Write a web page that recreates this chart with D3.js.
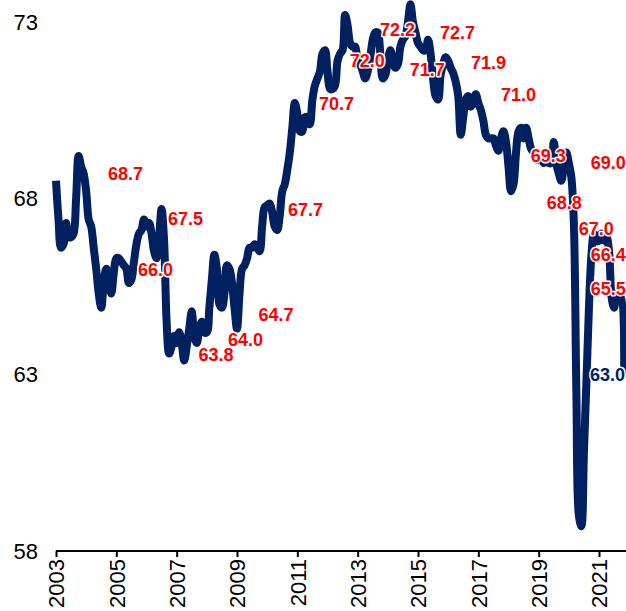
<!DOCTYPE html>
<html>
<head>
<meta charset="utf-8">
<script src="https://cdn.jsdelivr.net/npm/d3@7"></script>
<style>
    html, body { margin: 0; padding: 0; background: #fff; }
    svg { display: block; font-family: "Liberation Sans", Arial, sans-serif; }
</style>
</head>
<body>
<div id="figure"></div>
<script>
// monthly series, Jan 2003 .. Nov 2021
var startYear = 2003;
var rate = [
    68.5, 67.4, 66.6, 66.7, 67.3, 66.9, 66.9, 67.0, 68.0, 69.2, 68.9, 68.7, // 2003
    68.2, 67.4, 67.2, 66.6, 66.0, 65.3, 64.9, 65.6, 66.0, 65.7, 65.3, 65.9, // 2004
    66.3, 66.3, 66.2, 66.1, 66.0, 65.6, 65.7, 66.2, 66.7, 67.0, 67.1, 67.4, // 2005
    67.2, 67.3, 67.0, 66.5, 66.3, 66.9, 67.7, 66.8, 64.5, 63.6, 63.8, 64.1, // 2006
    63.9, 64.2, 63.9, 63.4, 63.8, 64.3, 64.8, 64.1, 63.9, 64.3, 64.5, 64.2, // 2007
    64.2, 64.9, 65.7, 66.4, 66.0, 65.0, 64.9, 65.3, 66.1, 66.0, 65.6, 64.9, // 2008
    64.3, 65.3, 66.0, 66.1, 66.3, 66.6, 66.6, 66.7, 66.6, 66.5, 67.2, 67.75, // 2009
    67.8, 67.85, 67.6, 67.2, 67.1, 67.5, 68.2, 68.4, 68.8, 69.3, 70.0, 70.7, // 2010
    70.4, 69.9, 69.9, 70.3, 70.3, 70.1, 70.8, 71.2, 71.4, 71.6, 72.1, 72.2, // 2011
    71.6, 71.1, 71.1, 71.2, 71.9, 72.1, 72.2, 73.2, 72.9, 72.4, 72.3, 72.3, // 2012
    71.9, 71.8, 71.6, 71.4, 71.6, 72.0, 72.5, 72.7, 72.7, 72.1, 71.4, 71.5, // 2013
    71.9, 72.2, 71.9, 71.7, 71.8, 72.3, 72.5, 72.6, 73.0, 73.5, 73.0, 72.7, // 2014
    72.4, 72.3, 72.2, 72.2, 72.5, 72.1, 71.4, 70.9, 70.8, 71.5, 71.8, 72.0, // 2015
    71.9, 71.7, 71.55, 71.3, 70.9, 69.8, 70.3, 70.8, 70.9, 70.6, 70.7, 70.95, // 2016
    70.7, 70.5, 70.2, 69.8, 69.7, 69.7, 69.7, 69.5, 69.35, 69.7, 69.9, 69.6, // 2017
    68.9, 68.2, 68.4, 69.3, 69.9, 70.0, 69.7, 70.0, 69.7, 69.4, 69.3, 69.1, // 2018
    69.1, 69.2, 69.0, 69.1, 69.0, 69.0, 69.6, 69.0, 68.7, 68.5, 68.9, 69.3, // 2019
    69.0, 68.6, 67.3, 62.5, 59.0, 58.7, 60.8, 62.8, 64.9, 66.4, 67.0, 66.8, // 2020
    66.8, 67.0, 66.8, 66.9, 66.5, 65.2, 64.9, 65.3, 65.1, 65.2, 63.0        // 2021
];

var yTicks = [58, 63, 68, 73];
var xTicks = [2003, 2005, 2007, 2009, 2011, 2013, 2015, 2017, 2019, 2021];

// value labels: text, date of left edge, level on the value scale
var labelText = ["68.7", "66.0", "67.5", "63.8", "64.0", "64.7", "67.7", "70.7", "72.0", "72.2", "71.7",
    "72.7", "71.9", "71.0", "69.3", "68.8", "67.0", "69.0", "66.4", "65.5", "63.0"];
var labelDate = [2004.72, 2005.72, 2006.71, 2007.72, 2008.70, 2009.71, 2010.69, 2011.72, 2012.74, 2013.74, 2014.73,
    2015.73, 2016.76, 2017.75, 2018.74, 2019.27, 2020.33, 2020.73, 2020.73, 2020.73, 2020.70];
var labelLevel = [68.71, 65.97, 67.43, 63.58, 64.0, 64.69, 67.69, 70.69, 71.91, 72.79, 71.65,
    72.7, 71.85, 70.95, 69.22, 67.89, 67.15, 69.02, 66.39, 65.45, 62.99];

var navy = "#002060";

/**
 * 
 * @param {number} i month index
 */
function monthDate(i) {
    return startYear + i / 12;
}

function drawChart() {
    var svg = d3.select("#figure")
        .append("svg")
        .attr("width", 626)
        .attr("height", 611);

    var x = d3.scaleLinear()
        .domain([2003, 2021.895])
        .range([56, 626]);
    var y = d3.scaleLinear()
        .domain([58, 73])
        .range([551, 22]);

    // y labels, no axis line
    svg.append("g")
        .selectAll("text")
        .data(yTicks)
        .join("text")
        .attr("x", 38)
        .attr("y", d => y(d))
        .attr("dy", "0.35em")
        .attr("text-anchor", "end")
        .attr("font-size", 22)
        .attr("fill", "#000")
        .text(d => d);

    // x axis
    var xAxis = svg.append("g")
        .attr("transform", "translate(0,551)")
        .call(d3.axisBottom(x).tickValues(xTicks).tickSize(6).tickFormat(d3.format("d")));
    xAxis.select(".domain")
        .attr("d", `M${x.range()[0]},0H${x.range()[1]}`)
        .attr("stroke", "#000")
        .attr("stroke-width", 2);
    xAxis.selectAll(".tick line")
        .attr("stroke", "#000")
        .attr("stroke-width", 2);
    xAxis.selectAll(".tick text")
        .attr("font-size", 22)
        .attr("font-family", "Liberation Sans, Arial, sans-serif")
        .attr("fill", "#000")
        .attr("text-anchor", "end")
        .attr("transform", "translate(0,8) rotate(-90)")
        .attr("x", 0)
        .attr("y", 0)
        .attr("dy", "0.35em");

    var line = d3.line()
        .x((d, i) => x(monthDate(i)))
        .y(d => y(d))
        .curve(d3.curveCatmullRom.alpha(0.5));

    svg.append("path")
        .datum(rate)
        .attr("d", line)
        .attr("fill", "none")
        .attr("stroke", navy)
        .attr("stroke-width", 8)
        .attr("stroke-linejoin", "round");

    var last = labelText.length - 1;
    svg.append("g")
        .selectAll("text")
        .data(labelText)
        .join("text")
        .attr("x", (d, i) => x(labelDate[i]))
        .attr("y", (d, i) => y(labelLevel[i]))
        .attr("dy", "0.35em")
        .attr("font-size", 18)
        .attr("font-weight", "bold")
        .attr("fill", (d, i) => i === last ? navy : "#ff0000")
        .attr("stroke", "#fff")
        .attr("stroke-width", 3)
        .attr("stroke-linejoin", "round")
        .attr("paint-order", "stroke")
        .text(d => d);
}

drawChart();
</script>
</body>
</html>
